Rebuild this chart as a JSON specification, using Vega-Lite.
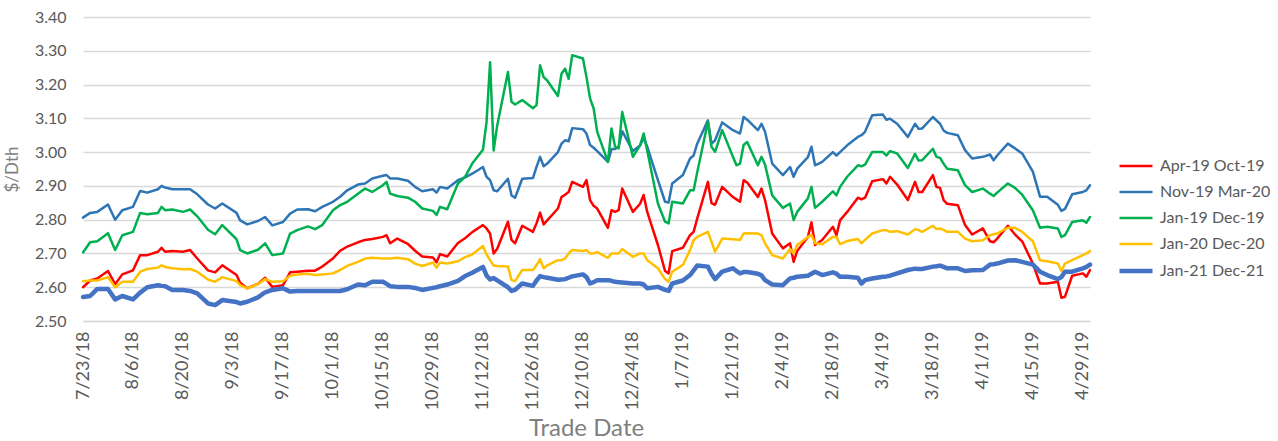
{
  "$schema": "https://vega.github.io/schema/vega-lite/v6.json",
  "width": 1007,
  "height": 304,
  "autosize": {"type": "none"},
  "padding": {"left": 83, "top": 17, "right": 188, "bottom": 120},
  "background": "white",
  "config": {"font": "Lato", "view": {"stroke": null}},
  "data": {"values": [
    {"date":"2018-07-23","Apr-19 Oct-19":2.600,"Nov-19 Mar-20":2.806,"Jan-19 Dec-19":2.703,"Jan-20 Dec-20":2.618,"Jan-21 Dec-21":2.571},
    {"date":"2018-07-25","Apr-19 Oct-19":2.620,"Nov-19 Mar-20":2.820,"Jan-19 Dec-19":2.733,"Jan-20 Dec-20":2.620,"Jan-21 Dec-21":2.574},
    {"date":"2018-07-27","Apr-19 Oct-19":2.626,"Nov-19 Mar-20":2.823,"Jan-19 Dec-19":2.736,"Jan-20 Dec-20":2.620,"Jan-21 Dec-21":2.595},
    {"date":"2018-07-30","Apr-19 Oct-19":2.648,"Nov-19 Mar-20":2.845,"Jan-19 Dec-19":2.760,"Jan-20 Dec-20":2.630,"Jan-21 Dec-21":2.595},
    {"date":"2018-08-01","Apr-19 Oct-19":2.609,"Nov-19 Mar-20":2.800,"Jan-19 Dec-19":2.710,"Jan-20 Dec-20":2.600,"Jan-21 Dec-21":2.564},
    {"date":"2018-08-03","Apr-19 Oct-19":2.638,"Nov-19 Mar-20":2.828,"Jan-19 Dec-19":2.754,"Jan-20 Dec-20":2.616,"Jan-21 Dec-21":2.574},
    {"date":"2018-08-06","Apr-19 Oct-19":2.650,"Nov-19 Mar-20":2.838,"Jan-19 Dec-19":2.764,"Jan-20 Dec-20":2.616,"Jan-21 Dec-21":2.564},
    {"date":"2018-08-08","Apr-19 Oct-19":2.695,"Nov-19 Mar-20":2.885,"Jan-19 Dec-19":2.820,"Jan-20 Dec-20":2.646,"Jan-21 Dec-21":2.584},
    {"date":"2018-08-10","Apr-19 Oct-19":2.695,"Nov-19 Mar-20":2.880,"Jan-19 Dec-19":2.816,"Jan-20 Dec-20":2.654,"Jan-21 Dec-21":2.600},
    {"date":"2018-08-13","Apr-19 Oct-19":2.705,"Nov-19 Mar-20":2.890,"Jan-19 Dec-19":2.820,"Jan-20 Dec-20":2.658,"Jan-21 Dec-21":2.606},
    {"date":"2018-08-14","Apr-19 Oct-19":2.717,"Nov-19 Mar-20":2.900,"Jan-19 Dec-19":2.838,"Jan-20 Dec-20":2.665,"Jan-21 Dec-21":2.604},
    {"date":"2018-08-15","Apr-19 Oct-19":2.705,"Nov-19 Mar-20":2.895,"Jan-19 Dec-19":2.828,"Jan-20 Dec-20":2.660,"Jan-21 Dec-21":2.603},
    {"date":"2018-08-17","Apr-19 Oct-19":2.707,"Nov-19 Mar-20":2.890,"Jan-19 Dec-19":2.830,"Jan-20 Dec-20":2.656,"Jan-21 Dec-21":2.592},
    {"date":"2018-08-20","Apr-19 Oct-19":2.705,"Nov-19 Mar-20":2.890,"Jan-19 Dec-19":2.823,"Jan-20 Dec-20":2.653,"Jan-21 Dec-21":2.592},
    {"date":"2018-08-22","Apr-19 Oct-19":2.710,"Nov-19 Mar-20":2.890,"Jan-19 Dec-19":2.830,"Jan-20 Dec-20":2.654,"Jan-21 Dec-21":2.589},
    {"date":"2018-08-24","Apr-19 Oct-19":2.685,"Nov-19 Mar-20":2.875,"Jan-19 Dec-19":2.810,"Jan-20 Dec-20":2.646,"Jan-21 Dec-21":2.582},
    {"date":"2018-08-27","Apr-19 Oct-19":2.650,"Nov-19 Mar-20":2.845,"Jan-19 Dec-19":2.770,"Jan-20 Dec-20":2.623,"Jan-21 Dec-21":2.552},
    {"date":"2018-08-29","Apr-19 Oct-19":2.644,"Nov-19 Mar-20":2.833,"Jan-19 Dec-19":2.757,"Jan-20 Dec-20":2.616,"Jan-21 Dec-21":2.547},
    {"date":"2018-08-31","Apr-19 Oct-19":2.665,"Nov-19 Mar-20":2.848,"Jan-19 Dec-19":2.784,"Jan-20 Dec-20":2.630,"Jan-21 Dec-21":2.562},
    {"date":"2018-09-04","Apr-19 Oct-19":2.636,"Nov-19 Mar-20":2.820,"Jan-19 Dec-19":2.742,"Jan-20 Dec-20":2.618,"Jan-21 Dec-21":2.556},
    {"date":"2018-09-05","Apr-19 Oct-19":2.613,"Nov-19 Mar-20":2.798,"Jan-19 Dec-19":2.710,"Jan-20 Dec-20":2.606,"Jan-21 Dec-21":2.552},
    {"date":"2018-09-07","Apr-19 Oct-19":2.597,"Nov-19 Mar-20":2.786,"Jan-19 Dec-19":2.700,"Jan-20 Dec-20":2.597,"Jan-21 Dec-21":2.557},
    {"date":"2018-09-10","Apr-19 Oct-19":2.610,"Nov-19 Mar-20":2.796,"Jan-19 Dec-19":2.711,"Jan-20 Dec-20":2.609,"Jan-21 Dec-21":2.570},
    {"date":"2018-09-12","Apr-19 Oct-19":2.628,"Nov-19 Mar-20":2.808,"Jan-19 Dec-19":2.730,"Jan-20 Dec-20":2.624,"Jan-21 Dec-21":2.585},
    {"date":"2018-09-14","Apr-19 Oct-19":2.601,"Nov-19 Mar-20":2.783,"Jan-19 Dec-19":2.695,"Jan-20 Dec-20":2.616,"Jan-21 Dec-21":2.592},
    {"date":"2018-09-17","Apr-19 Oct-19":2.606,"Nov-19 Mar-20":2.793,"Jan-19 Dec-19":2.700,"Jan-20 Dec-20":2.618,"Jan-21 Dec-21":2.597},
    {"date":"2018-09-19","Apr-19 Oct-19":2.644,"Nov-19 Mar-20":2.818,"Jan-19 Dec-19":2.759,"Jan-20 Dec-20":2.634,"Jan-21 Dec-21":2.587},
    {"date":"2018-09-21","Apr-19 Oct-19":2.646,"Nov-19 Mar-20":2.830,"Jan-19 Dec-19":2.769,"Jan-20 Dec-20":2.638,"Jan-21 Dec-21":2.589},
    {"date":"2018-09-24","Apr-19 Oct-19":2.649,"Nov-19 Mar-20":2.831,"Jan-19 Dec-19":2.780,"Jan-20 Dec-20":2.640,"Jan-21 Dec-21":2.589},
    {"date":"2018-09-26","Apr-19 Oct-19":2.649,"Nov-19 Mar-20":2.825,"Jan-19 Dec-19":2.772,"Jan-20 Dec-20":2.636,"Jan-21 Dec-21":2.589},
    {"date":"2018-09-28","Apr-19 Oct-19":2.661,"Nov-19 Mar-20":2.838,"Jan-19 Dec-19":2.784,"Jan-20 Dec-20":2.638,"Jan-21 Dec-21":2.589},
    {"date":"2018-10-01","Apr-19 Oct-19":2.685,"Nov-19 Mar-20":2.853,"Jan-19 Dec-19":2.828,"Jan-20 Dec-20":2.641,"Jan-21 Dec-21":2.589},
    {"date":"2018-10-03","Apr-19 Oct-19":2.708,"Nov-19 Mar-20":2.868,"Jan-19 Dec-19":2.843,"Jan-20 Dec-20":2.651,"Jan-21 Dec-21":2.589},
    {"date":"2018-10-05","Apr-19 Oct-19":2.720,"Nov-19 Mar-20":2.887,"Jan-19 Dec-19":2.853,"Jan-20 Dec-20":2.663,"Jan-21 Dec-21":2.594},
    {"date":"2018-10-08","Apr-19 Oct-19":2.733,"Nov-19 Mar-20":2.904,"Jan-19 Dec-19":2.877,"Jan-20 Dec-20":2.675,"Jan-21 Dec-21":2.608},
    {"date":"2018-10-10","Apr-19 Oct-19":2.740,"Nov-19 Mar-20":2.907,"Jan-19 Dec-19":2.892,"Jan-20 Dec-20":2.685,"Jan-21 Dec-21":2.606},
    {"date":"2018-10-12","Apr-19 Oct-19":2.743,"Nov-19 Mar-20":2.922,"Jan-19 Dec-19":2.882,"Jan-20 Dec-20":2.687,"Jan-21 Dec-21":2.616},
    {"date":"2018-10-15","Apr-19 Oct-19":2.749,"Nov-19 Mar-20":2.930,"Jan-19 Dec-19":2.902,"Jan-20 Dec-20":2.685,"Jan-21 Dec-21":2.616},
    {"date":"2018-10-16","Apr-19 Oct-19":2.754,"Nov-19 Mar-20":2.932,"Jan-19 Dec-19":2.912,"Jan-20 Dec-20":2.685,"Jan-21 Dec-21":2.610},
    {"date":"2018-10-17","Apr-19 Oct-19":2.730,"Nov-19 Mar-20":2.922,"Jan-19 Dec-19":2.877,"Jan-20 Dec-20":2.685,"Jan-21 Dec-21":2.603},
    {"date":"2018-10-19","Apr-19 Oct-19":2.744,"Nov-19 Mar-20":2.922,"Jan-19 Dec-19":2.870,"Jan-20 Dec-20":2.687,"Jan-21 Dec-21":2.601},
    {"date":"2018-10-22","Apr-19 Oct-19":2.728,"Nov-19 Mar-20":2.915,"Jan-19 Dec-19":2.865,"Jan-20 Dec-20":2.683,"Jan-21 Dec-21":2.601},
    {"date":"2018-10-24","Apr-19 Oct-19":2.708,"Nov-19 Mar-20":2.897,"Jan-19 Dec-19":2.853,"Jan-20 Dec-20":2.670,"Jan-21 Dec-21":2.598},
    {"date":"2018-10-26","Apr-19 Oct-19":2.691,"Nov-19 Mar-20":2.884,"Jan-19 Dec-19":2.833,"Jan-20 Dec-20":2.663,"Jan-21 Dec-21":2.592},
    {"date":"2018-10-29","Apr-19 Oct-19":2.688,"Nov-19 Mar-20":2.890,"Jan-19 Dec-19":2.826,"Jan-20 Dec-20":2.673,"Jan-21 Dec-21":2.598},
    {"date":"2018-10-30","Apr-19 Oct-19":2.674,"Nov-19 Mar-20":2.880,"Jan-19 Dec-19":2.814,"Jan-20 Dec-20":2.658,"Jan-21 Dec-21":2.600},
    {"date":"2018-10-31","Apr-19 Oct-19":2.698,"Nov-19 Mar-20":2.897,"Jan-19 Dec-19":2.838,"Jan-20 Dec-20":2.673,"Jan-21 Dec-21":2.603},
    {"date":"2018-11-02","Apr-19 Oct-19":2.691,"Nov-19 Mar-20":2.892,"Jan-19 Dec-19":2.831,"Jan-20 Dec-20":2.670,"Jan-21 Dec-21":2.608},
    {"date":"2018-11-05","Apr-19 Oct-19":2.731,"Nov-19 Mar-20":2.917,"Jan-19 Dec-19":2.907,"Jan-20 Dec-20":2.677,"Jan-21 Dec-21":2.619},
    {"date":"2018-11-07","Apr-19 Oct-19":2.745,"Nov-19 Mar-20":2.925,"Jan-19 Dec-19":2.927,"Jan-20 Dec-20":2.689,"Jan-21 Dec-21":2.633},
    {"date":"2018-11-09","Apr-19 Oct-19":2.763,"Nov-19 Mar-20":2.936,"Jan-19 Dec-19":2.966,"Jan-20 Dec-20":2.697,"Jan-21 Dec-21":2.643},
    {"date":"2018-11-12","Apr-19 Oct-19":2.784,"Nov-19 Mar-20":2.956,"Jan-19 Dec-19":3.007,"Jan-20 Dec-20":2.722,"Jan-21 Dec-21":2.660},
    {"date":"2018-11-13","Apr-19 Oct-19":2.774,"Nov-19 Mar-20":2.927,"Jan-19 Dec-19":3.088,"Jan-20 Dec-20":2.697,"Jan-21 Dec-21":2.635},
    {"date":"2018-11-14","Apr-19 Oct-19":2.759,"Nov-19 Mar-20":2.917,"Jan-19 Dec-19":3.266,"Jan-20 Dec-20":2.680,"Jan-21 Dec-21":2.623},
    {"date":"2018-11-15","Apr-19 Oct-19":2.700,"Nov-19 Mar-20":2.887,"Jan-19 Dec-19":3.005,"Jan-20 Dec-20":2.664,"Jan-21 Dec-21":2.627},
    {"date":"2018-11-16","Apr-19 Oct-19":2.714,"Nov-19 Mar-20":2.884,"Jan-19 Dec-19":3.079,"Jan-20 Dec-20":2.663,"Jan-21 Dec-21":2.620},
    {"date":"2018-11-19","Apr-19 Oct-19":2.794,"Nov-19 Mar-20":2.921,"Jan-19 Dec-19":3.237,"Jan-20 Dec-20":2.661,"Jan-21 Dec-21":2.600},
    {"date":"2018-11-20","Apr-19 Oct-19":2.740,"Nov-19 Mar-20":2.872,"Jan-19 Dec-19":3.149,"Jan-20 Dec-20":2.621,"Jan-21 Dec-21":2.589},
    {"date":"2018-11-21","Apr-19 Oct-19":2.730,"Nov-19 Mar-20":2.865,"Jan-19 Dec-19":3.141,"Jan-20 Dec-20":2.618,"Jan-21 Dec-21":2.592},
    {"date":"2018-11-23","Apr-19 Oct-19":2.782,"Nov-19 Mar-20":2.921,"Jan-19 Dec-19":3.154,"Jan-20 Dec-20":2.651,"Jan-21 Dec-21":2.611},
    {"date":"2018-11-26","Apr-19 Oct-19":2.764,"Nov-19 Mar-20":2.923,"Jan-19 Dec-19":3.130,"Jan-20 Dec-20":2.651,"Jan-21 Dec-21":2.604},
    {"date":"2018-11-27","Apr-19 Oct-19":2.789,"Nov-19 Mar-20":2.956,"Jan-19 Dec-19":3.139,"Jan-20 Dec-20":2.665,"Jan-21 Dec-21":2.620},
    {"date":"2018-11-28","Apr-19 Oct-19":2.821,"Nov-19 Mar-20":2.986,"Jan-19 Dec-19":3.257,"Jan-20 Dec-20":2.683,"Jan-21 Dec-21":2.633},
    {"date":"2018-11-29","Apr-19 Oct-19":2.786,"Nov-19 Mar-20":2.958,"Jan-19 Dec-19":3.222,"Jan-20 Dec-20":2.656,"Jan-21 Dec-21":2.630},
    {"date":"2018-11-30","Apr-19 Oct-19":2.798,"Nov-19 Mar-20":2.966,"Jan-19 Dec-19":3.212,"Jan-20 Dec-20":2.665,"Jan-21 Dec-21":2.628},
    {"date":"2018-12-03","Apr-19 Oct-19":2.833,"Nov-19 Mar-20":3.000,"Jan-19 Dec-19":3.166,"Jan-20 Dec-20":2.680,"Jan-21 Dec-21":2.622},
    {"date":"2018-12-04","Apr-19 Oct-19":2.867,"Nov-19 Mar-20":3.025,"Jan-19 Dec-19":3.232,"Jan-20 Dec-20":2.680,"Jan-21 Dec-21":2.623},
    {"date":"2018-12-05","Apr-19 Oct-19":2.874,"Nov-19 Mar-20":3.035,"Jan-19 Dec-19":3.247,"Jan-20 Dec-20":2.685,"Jan-21 Dec-21":2.624},
    {"date":"2018-12-06","Apr-19 Oct-19":2.882,"Nov-19 Mar-20":3.032,"Jan-19 Dec-19":3.217,"Jan-20 Dec-20":2.700,"Jan-21 Dec-21":2.628},
    {"date":"2018-12-07","Apr-19 Oct-19":2.912,"Nov-19 Mar-20":3.071,"Jan-19 Dec-19":3.287,"Jan-20 Dec-20":2.710,"Jan-21 Dec-21":2.632},
    {"date":"2018-12-10","Apr-19 Oct-19":2.897,"Nov-19 Mar-20":3.068,"Jan-19 Dec-19":3.277,"Jan-20 Dec-20":2.707,"Jan-21 Dec-21":2.638},
    {"date":"2018-12-11","Apr-19 Oct-19":2.917,"Nov-19 Mar-20":3.055,"Jan-19 Dec-19":3.222,"Jan-20 Dec-20":2.710,"Jan-21 Dec-21":2.630},
    {"date":"2018-12-12","Apr-19 Oct-19":2.858,"Nov-19 Mar-20":3.021,"Jan-19 Dec-19":3.159,"Jan-20 Dec-20":2.700,"Jan-21 Dec-21":2.611},
    {"date":"2018-12-13","Apr-19 Oct-19":2.841,"Nov-19 Mar-20":3.013,"Jan-19 Dec-19":3.129,"Jan-20 Dec-20":2.700,"Jan-21 Dec-21":2.615},
    {"date":"2018-12-14","Apr-19 Oct-19":2.833,"Nov-19 Mar-20":3.003,"Jan-19 Dec-19":3.060,"Jan-20 Dec-20":2.704,"Jan-21 Dec-21":2.621},
    {"date":"2018-12-17","Apr-19 Oct-19":2.776,"Nov-19 Mar-20":2.971,"Jan-19 Dec-19":2.971,"Jan-20 Dec-20":2.687,"Jan-21 Dec-21":2.621},
    {"date":"2018-12-18","Apr-19 Oct-19":2.828,"Nov-19 Mar-20":3.009,"Jan-19 Dec-19":3.070,"Jan-20 Dec-20":2.700,"Jan-21 Dec-21":2.619},
    {"date":"2018-12-19","Apr-19 Oct-19":2.823,"Nov-19 Mar-20":3.009,"Jan-19 Dec-19":3.016,"Jan-20 Dec-20":2.700,"Jan-21 Dec-21":2.616},
    {"date":"2018-12-20","Apr-19 Oct-19":2.828,"Nov-19 Mar-20":3.016,"Jan-19 Dec-19":3.011,"Jan-20 Dec-20":2.700,"Jan-21 Dec-21":2.615},
    {"date":"2018-12-21","Apr-19 Oct-19":2.892,"Nov-19 Mar-20":3.062,"Jan-19 Dec-19":3.119,"Jan-20 Dec-20":2.713,"Jan-21 Dec-21":2.614},
    {"date":"2018-12-24","Apr-19 Oct-19":2.823,"Nov-19 Mar-20":3.003,"Jan-19 Dec-19":2.986,"Jan-20 Dec-20":2.690,"Jan-21 Dec-21":2.611},
    {"date":"2018-12-26","Apr-19 Oct-19":2.847,"Nov-19 Mar-20":3.020,"Jan-19 Dec-19":3.020,"Jan-20 Dec-20":2.700,"Jan-21 Dec-21":2.611},
    {"date":"2018-12-27","Apr-19 Oct-19":2.873,"Nov-19 Mar-20":3.042,"Jan-19 Dec-19":3.055,"Jan-20 Dec-20":2.700,"Jan-21 Dec-21":2.608},
    {"date":"2018-12-28","Apr-19 Oct-19":2.823,"Nov-19 Mar-20":3.016,"Jan-19 Dec-19":3.005,"Jan-20 Dec-20":2.680,"Jan-21 Dec-21":2.597},
    {"date":"2018-12-31","Apr-19 Oct-19":2.725,"Nov-19 Mar-20":2.917,"Jan-19 Dec-19":2.848,"Jan-20 Dec-20":2.656,"Jan-21 Dec-21":2.601},
    {"date":"2019-01-02","Apr-19 Oct-19":2.648,"Nov-19 Mar-20":2.853,"Jan-19 Dec-19":2.794,"Jan-20 Dec-20":2.624,"Jan-21 Dec-21":2.592},
    {"date":"2019-01-03","Apr-19 Oct-19":2.641,"Nov-19 Mar-20":2.851,"Jan-19 Dec-19":2.789,"Jan-20 Dec-20":2.616,"Jan-21 Dec-21":2.589},
    {"date":"2019-01-04","Apr-19 Oct-19":2.707,"Nov-19 Mar-20":2.907,"Jan-19 Dec-19":2.853,"Jan-20 Dec-20":2.646,"Jan-21 Dec-21":2.611},
    {"date":"2019-01-07","Apr-19 Oct-19":2.717,"Nov-19 Mar-20":2.932,"Jan-19 Dec-19":2.848,"Jan-20 Dec-20":2.666,"Jan-21 Dec-21":2.620},
    {"date":"2019-01-09","Apr-19 Oct-19":2.754,"Nov-19 Mar-20":2.981,"Jan-19 Dec-19":2.887,"Jan-20 Dec-20":2.710,"Jan-21 Dec-21":2.636},
    {"date":"2019-01-10","Apr-19 Oct-19":2.764,"Nov-19 Mar-20":2.990,"Jan-19 Dec-19":2.887,"Jan-20 Dec-20":2.739,"Jan-21 Dec-21":2.650},
    {"date":"2019-01-11","Apr-19 Oct-19":2.803,"Nov-19 Mar-20":3.025,"Jan-19 Dec-19":2.940,"Jan-20 Dec-20":2.749,"Jan-21 Dec-21":2.664},
    {"date":"2019-01-14","Apr-19 Oct-19":2.912,"Nov-19 Mar-20":3.094,"Jan-19 Dec-19":3.090,"Jan-20 Dec-20":2.764,"Jan-21 Dec-21":2.661},
    {"date":"2019-01-15","Apr-19 Oct-19":2.849,"Nov-19 Mar-20":3.025,"Jan-19 Dec-19":3.016,"Jan-20 Dec-20":2.735,"Jan-21 Dec-21":2.640},
    {"date":"2019-01-16","Apr-19 Oct-19":2.844,"Nov-19 Mar-20":3.035,"Jan-19 Dec-19":3.001,"Jan-20 Dec-20":2.705,"Jan-21 Dec-21":2.624},
    {"date":"2019-01-18","Apr-19 Oct-19":2.897,"Nov-19 Mar-20":3.088,"Jan-19 Dec-19":3.065,"Jan-20 Dec-20":2.744,"Jan-21 Dec-21":2.646},
    {"date":"2019-01-21","Apr-19 Oct-19":2.867,"Nov-19 Mar-20":3.065,"Jan-19 Dec-19":2.986,"Jan-20 Dec-20":2.742,"Jan-21 Dec-21":2.656},
    {"date":"2019-01-22","Apr-19 Oct-19":2.860,"Nov-19 Mar-20":3.060,"Jan-19 Dec-19":2.961,"Jan-20 Dec-20":2.741,"Jan-21 Dec-21":2.648},
    {"date":"2019-01-23","Apr-19 Oct-19":2.853,"Nov-19 Mar-20":3.055,"Jan-19 Dec-19":2.966,"Jan-20 Dec-20":2.740,"Jan-21 Dec-21":2.641},
    {"date":"2019-01-24","Apr-19 Oct-19":2.917,"Nov-19 Mar-20":3.104,"Jan-19 Dec-19":3.021,"Jan-20 Dec-20":2.759,"Jan-21 Dec-21":2.645},
    {"date":"2019-01-25","Apr-19 Oct-19":2.910,"Nov-19 Mar-20":3.096,"Jan-19 Dec-19":3.030,"Jan-20 Dec-20":2.760,"Jan-21 Dec-21":2.645},
    {"date":"2019-01-28","Apr-19 Oct-19":2.867,"Nov-19 Mar-20":3.065,"Jan-19 Dec-19":2.961,"Jan-20 Dec-20":2.759,"Jan-21 Dec-21":2.640},
    {"date":"2019-01-29","Apr-19 Oct-19":2.892,"Nov-19 Mar-20":3.084,"Jan-19 Dec-19":2.986,"Jan-20 Dec-20":2.754,"Jan-21 Dec-21":2.635},
    {"date":"2019-01-30","Apr-19 Oct-19":2.858,"Nov-19 Mar-20":3.060,"Jan-19 Dec-19":2.963,"Jan-20 Dec-20":2.730,"Jan-21 Dec-21":2.621},
    {"date":"2019-02-01","Apr-19 Oct-19":2.759,"Nov-19 Mar-20":2.966,"Jan-19 Dec-19":2.872,"Jan-20 Dec-20":2.695,"Jan-21 Dec-21":2.608},
    {"date":"2019-02-04","Apr-19 Oct-19":2.715,"Nov-19 Mar-20":2.932,"Jan-19 Dec-19":2.835,"Jan-20 Dec-20":2.685,"Jan-21 Dec-21":2.606},
    {"date":"2019-02-06","Apr-19 Oct-19":2.730,"Nov-19 Mar-20":2.956,"Jan-19 Dec-19":2.848,"Jan-20 Dec-20":2.713,"Jan-21 Dec-21":2.626},
    {"date":"2019-02-07","Apr-19 Oct-19":2.675,"Nov-19 Mar-20":2.927,"Jan-19 Dec-19":2.799,"Jan-20 Dec-20":2.700,"Jan-21 Dec-21":2.628},
    {"date":"2019-02-08","Apr-19 Oct-19":2.707,"Nov-19 Mar-20":2.951,"Jan-19 Dec-19":2.823,"Jan-20 Dec-20":2.725,"Jan-21 Dec-21":2.631},
    {"date":"2019-02-11","Apr-19 Oct-19":2.749,"Nov-19 Mar-20":2.985,"Jan-19 Dec-19":2.863,"Jan-20 Dec-20":2.749,"Jan-21 Dec-21":2.634},
    {"date":"2019-02-12","Apr-19 Oct-19":2.792,"Nov-19 Mar-20":3.016,"Jan-19 Dec-19":2.897,"Jan-20 Dec-20":2.755,"Jan-21 Dec-21":2.640},
    {"date":"2019-02-13","Apr-19 Oct-19":2.725,"Nov-19 Mar-20":2.961,"Jan-19 Dec-19":2.835,"Jan-20 Dec-20":2.730,"Jan-21 Dec-21":2.646},
    {"date":"2019-02-15","Apr-19 Oct-19":2.740,"Nov-19 Mar-20":2.971,"Jan-19 Dec-19":2.853,"Jan-20 Dec-20":2.727,"Jan-21 Dec-21":2.636},
    {"date":"2019-02-18","Apr-19 Oct-19":2.779,"Nov-19 Mar-20":3.000,"Jan-19 Dec-19":2.884,"Jan-20 Dec-20":2.749,"Jan-21 Dec-21":2.644},
    {"date":"2019-02-19","Apr-19 Oct-19":2.754,"Nov-19 Mar-20":2.990,"Jan-19 Dec-19":2.872,"Jan-20 Dec-20":2.749,"Jan-21 Dec-21":2.640},
    {"date":"2019-02-20","Apr-19 Oct-19":2.798,"Nov-19 Mar-20":3.000,"Jan-19 Dec-19":2.897,"Jan-20 Dec-20":2.727,"Jan-21 Dec-21":2.631},
    {"date":"2019-02-22","Apr-19 Oct-19":2.823,"Nov-19 Mar-20":3.020,"Jan-19 Dec-19":2.927,"Jan-20 Dec-20":2.737,"Jan-21 Dec-21":2.631},
    {"date":"2019-02-25","Apr-19 Oct-19":2.865,"Nov-19 Mar-20":3.045,"Jan-19 Dec-19":2.961,"Jan-20 Dec-20":2.743,"Jan-21 Dec-21":2.628},
    {"date":"2019-02-26","Apr-19 Oct-19":2.860,"Nov-19 Mar-20":3.050,"Jan-19 Dec-19":2.958,"Jan-20 Dec-20":2.730,"Jan-21 Dec-21":2.611},
    {"date":"2019-02-27","Apr-19 Oct-19":2.865,"Nov-19 Mar-20":3.060,"Jan-19 Dec-19":2.963,"Jan-20 Dec-20":2.740,"Jan-21 Dec-21":2.621},
    {"date":"2019-03-01","Apr-19 Oct-19":2.914,"Nov-19 Mar-20":3.109,"Jan-19 Dec-19":3.000,"Jan-20 Dec-20":2.759,"Jan-21 Dec-21":2.626},
    {"date":"2019-03-04","Apr-19 Oct-19":2.920,"Nov-19 Mar-20":3.111,"Jan-19 Dec-19":3.000,"Jan-20 Dec-20":2.769,"Jan-21 Dec-21":2.631},
    {"date":"2019-03-05","Apr-19 Oct-19":2.907,"Nov-19 Mar-20":3.096,"Jan-19 Dec-19":2.990,"Jan-20 Dec-20":2.769,"Jan-21 Dec-21":2.632},
    {"date":"2019-03-06","Apr-19 Oct-19":2.927,"Nov-19 Mar-20":3.099,"Jan-19 Dec-19":3.003,"Jan-20 Dec-20":2.764,"Jan-21 Dec-21":2.634},
    {"date":"2019-03-08","Apr-19 Oct-19":2.904,"Nov-19 Mar-20":3.084,"Jan-19 Dec-19":2.996,"Jan-20 Dec-20":2.766,"Jan-21 Dec-21":2.641},
    {"date":"2019-03-11","Apr-19 Oct-19":2.858,"Nov-19 Mar-20":3.045,"Jan-19 Dec-19":2.953,"Jan-20 Dec-20":2.756,"Jan-21 Dec-21":2.651},
    {"date":"2019-03-13","Apr-19 Oct-19":2.912,"Nov-19 Mar-20":3.084,"Jan-19 Dec-19":2.995,"Jan-20 Dec-20":2.772,"Jan-21 Dec-21":2.655},
    {"date":"2019-03-14","Apr-19 Oct-19":2.882,"Nov-19 Mar-20":3.069,"Jan-19 Dec-19":2.975,"Jan-20 Dec-20":2.769,"Jan-21 Dec-21":2.654},
    {"date":"2019-03-15","Apr-19 Oct-19":2.882,"Nov-19 Mar-20":3.070,"Jan-19 Dec-19":2.976,"Jan-20 Dec-20":2.764,"Jan-21 Dec-21":2.654},
    {"date":"2019-03-18","Apr-19 Oct-19":2.932,"Nov-19 Mar-20":3.104,"Jan-19 Dec-19":3.010,"Jan-20 Dec-20":2.782,"Jan-21 Dec-21":2.661},
    {"date":"2019-03-19","Apr-19 Oct-19":2.897,"Nov-19 Mar-20":3.094,"Jan-19 Dec-19":2.986,"Jan-20 Dec-20":2.772,"Jan-21 Dec-21":2.662},
    {"date":"2019-03-20","Apr-19 Oct-19":2.894,"Nov-19 Mar-20":3.084,"Jan-19 Dec-19":2.983,"Jan-20 Dec-20":2.774,"Jan-21 Dec-21":2.664},
    {"date":"2019-03-21","Apr-19 Oct-19":2.858,"Nov-19 Mar-20":3.064,"Jan-19 Dec-19":2.966,"Jan-20 Dec-20":2.770,"Jan-21 Dec-21":2.660},
    {"date":"2019-03-22","Apr-19 Oct-19":2.847,"Nov-19 Mar-20":3.057,"Jan-19 Dec-19":2.951,"Jan-20 Dec-20":2.764,"Jan-21 Dec-21":2.656},
    {"date":"2019-03-25","Apr-19 Oct-19":2.843,"Nov-19 Mar-20":3.050,"Jan-19 Dec-19":2.946,"Jan-20 Dec-20":2.764,"Jan-21 Dec-21":2.656},
    {"date":"2019-03-27","Apr-19 Oct-19":2.784,"Nov-19 Mar-20":3.006,"Jan-19 Dec-19":2.902,"Jan-20 Dec-20":2.744,"Jan-21 Dec-21":2.648},
    {"date":"2019-03-29","Apr-19 Oct-19":2.756,"Nov-19 Mar-20":2.981,"Jan-19 Dec-19":2.882,"Jan-20 Dec-20":2.736,"Jan-21 Dec-21":2.650},
    {"date":"2019-04-01","Apr-19 Oct-19":2.774,"Nov-19 Mar-20":2.986,"Jan-19 Dec-19":2.892,"Jan-20 Dec-20":2.739,"Jan-21 Dec-21":2.651},
    {"date":"2019-04-03","Apr-19 Oct-19":2.736,"Nov-19 Mar-20":2.993,"Jan-19 Dec-19":2.877,"Jan-20 Dec-20":2.754,"Jan-21 Dec-21":2.667},
    {"date":"2019-04-04","Apr-19 Oct-19":2.733,"Nov-19 Mar-20":2.976,"Jan-19 Dec-19":2.870,"Jan-20 Dec-20":2.757,"Jan-21 Dec-21":2.668},
    {"date":"2019-04-05","Apr-19 Oct-19":2.744,"Nov-19 Mar-20":2.990,"Jan-19 Dec-19":2.880,"Jan-20 Dec-20":2.759,"Jan-21 Dec-21":2.670},
    {"date":"2019-04-08","Apr-19 Oct-19":2.782,"Nov-19 Mar-20":3.025,"Jan-19 Dec-19":2.907,"Jan-20 Dec-20":2.776,"Jan-21 Dec-21":2.679},
    {"date":"2019-04-10","Apr-19 Oct-19":2.756,"Nov-19 Mar-20":3.011,"Jan-19 Dec-19":2.894,"Jan-20 Dec-20":2.776,"Jan-21 Dec-21":2.680},
    {"date":"2019-04-12","Apr-19 Oct-19":2.736,"Nov-19 Mar-20":2.996,"Jan-19 Dec-19":2.874,"Jan-20 Dec-20":2.764,"Jan-21 Dec-21":2.675},
    {"date":"2019-04-15","Apr-19 Oct-19":2.670,"Nov-19 Mar-20":2.942,"Jan-19 Dec-19":2.828,"Jan-20 Dec-20":2.736,"Jan-21 Dec-21":2.667},
    {"date":"2019-04-17","Apr-19 Oct-19":2.611,"Nov-19 Mar-20":2.868,"Jan-19 Dec-19":2.776,"Jan-20 Dec-20":2.680,"Jan-21 Dec-21":2.646},
    {"date":"2019-04-19","Apr-19 Oct-19":2.611,"Nov-19 Mar-20":2.868,"Jan-19 Dec-19":2.779,"Jan-20 Dec-20":2.677,"Jan-21 Dec-21":2.636},
    {"date":"2019-04-22","Apr-19 Oct-19":2.616,"Nov-19 Mar-20":2.844,"Jan-19 Dec-19":2.774,"Jan-20 Dec-20":2.670,"Jan-21 Dec-21":2.624},
    {"date":"2019-04-23","Apr-19 Oct-19":2.569,"Nov-19 Mar-20":2.826,"Jan-19 Dec-19":2.749,"Jan-20 Dec-20":2.648,"Jan-21 Dec-21":2.630},
    {"date":"2019-04-24","Apr-19 Oct-19":2.572,"Nov-19 Mar-20":2.832,"Jan-19 Dec-19":2.754,"Jan-20 Dec-20":2.670,"Jan-21 Dec-21":2.646},
    {"date":"2019-04-26","Apr-19 Oct-19":2.634,"Nov-19 Mar-20":2.875,"Jan-19 Dec-19":2.793,"Jan-20 Dec-20":2.680,"Jan-21 Dec-21":2.646},
    {"date":"2019-04-29","Apr-19 Oct-19":2.641,"Nov-19 Mar-20":2.882,"Jan-19 Dec-19":2.798,"Jan-20 Dec-20":2.695,"Jan-21 Dec-21":2.656},
    {"date":"2019-04-30","Apr-19 Oct-19":2.631,"Nov-19 Mar-20":2.887,"Jan-19 Dec-19":2.791,"Jan-20 Dec-20":2.700,"Jan-21 Dec-21":2.660},
    {"date":"2019-05-01","Apr-19 Oct-19":2.651,"Nov-19 Mar-20":2.902,"Jan-19 Dec-19":2.808,"Jan-20 Dec-20":2.707,"Jan-21 Dec-21":2.667}
  ]},
  "transform": [
    {"fold": ["Apr-19 Oct-19", "Nov-19 Mar-20", "Jan-19 Dec-19", "Jan-20 Dec-20", "Jan-21 Dec-21"], "as": ["series", "price"]},
    {"filter": "isValid(datum.price)"}
  ],
  "mark": {"type": "line", "strokeJoin": "round", "strokeCap": "round"},
  "encoding": {
    "x": {
      "field": "date", "type": "temporal",
      "scale": {"type": "utc", "domain": [{"year": 2018, "month": 7, "date": 23, "utc": true}, {"year": 2019, "month": 5, "date": 1, "utc": true}]},
      "axis": {
        "values": [
          {"year": 2018, "month": 7, "date": 23, "utc": true},
          {"year": 2018, "month": 8, "date": 6, "utc": true},
          {"year": 2018, "month": 8, "date": 20, "utc": true},
          {"year": 2018, "month": 9, "date": 3, "utc": true},
          {"year": 2018, "month": 9, "date": 17, "utc": true},
          {"year": 2018, "month": 10, "date": 1, "utc": true},
          {"year": 2018, "month": 10, "date": 15, "utc": true},
          {"year": 2018, "month": 10, "date": 29, "utc": true},
          {"year": 2018, "month": 11, "date": 12, "utc": true},
          {"year": 2018, "month": 11, "date": 26, "utc": true},
          {"year": 2018, "month": 12, "date": 10, "utc": true},
          {"year": 2018, "month": 12, "date": 24, "utc": true},
          {"year": 2019, "month": 1, "date": 7, "utc": true},
          {"year": 2019, "month": 1, "date": 21, "utc": true},
          {"year": 2019, "month": 2, "date": 4, "utc": true},
          {"year": 2019, "month": 2, "date": 18, "utc": true},
          {"year": 2019, "month": 3, "date": 4, "utc": true},
          {"year": 2019, "month": 3, "date": 18, "utc": true},
          {"year": 2019, "month": 4, "date": 1, "utc": true},
          {"year": 2019, "month": 4, "date": 15, "utc": true},
          {"year": 2019, "month": 4, "date": 29, "utc": true}
        ],
        "format": "%-m/%-d/%y",
        "labelAngle": 270,
        "labelFontSize": 18,
        "labelColor": "#595959",
        "labelPadding": 10,
        "labelOverlap": false,
        "labelFlush": false,
        "ticks": false,
        "grid": false,
        "domainColor": "#D9D9D9",
        "domainWidth": 1.5,
        "title": "Trade Date",
        "titleFontSize": 24,
        "titleFontWeight": "normal",
        "titleColor": "#7F7F7F",
        "titleX": 503,
        "titleY": 107,
        "titleAlign": "center",
        "titleBaseline": "middle"
      }
    },
    "y": {
      "field": "price", "type": "quantitative",
      "scale": {"domain": [2.5, 3.4], "nice": false, "zero": false},
      "axis": {
        "values": [2.5, 2.6, 2.7, 2.8, 2.9, 3.0, 3.1, 3.2, 3.3, 3.4],
        "format": ".2f",
        "labelFontSize": 16,
        "labelColor": "#595959",
        "labelPadding": 17,
        "ticks": false,
        "domain": false,
        "gridColor": "#D9D9D9",
        "gridWidth": 1.5,
        "title": "$/Dth",
        "titleFontSize": 17,
        "titleFontWeight": "normal",
        "titleColor": "#7F7F7F",
        "titleAngle": 270,
        "titleX": -71,
        "titleY": 152,
        "titleAlign": "center",
        "titleBaseline": "middle"
      }
    },
    "color": {
      "field": "series", "type": "nominal",
      "scale": {
        "domain": ["Apr-19 Oct-19", "Nov-19 Mar-20", "Jan-19 Dec-19", "Jan-20 Dec-20", "Jan-21 Dec-21"],
        "range": ["#FF0000", "#2E75B6", "#00B050", "#FFC000", "#4472C4"]
      },
      "legend": {
        "title": null,
        "orient": "none",
        "legendX": 1034,
        "legendY": 131,
        "padding": 0,
        "symbolType": "stroke",
        "symbolSize": 1089,
        "rowPadding": 0,
        "labelOffset": 5,
        "labelFontSize": 16,
        "labelColor": "#595959"
      }
    },
    "strokeWidth": {
      "field": "series", "type": "nominal",
      "scale": {
        "type": "ordinal",
        "domain": ["Apr-19 Oct-19", "Nov-19 Mar-20", "Jan-19 Dec-19", "Jan-20 Dec-20", "Jan-21 Dec-21"],
        "range": [2.5, 2.5, 2.5, 2.5, 4.5]
      }
    }
  }
}
